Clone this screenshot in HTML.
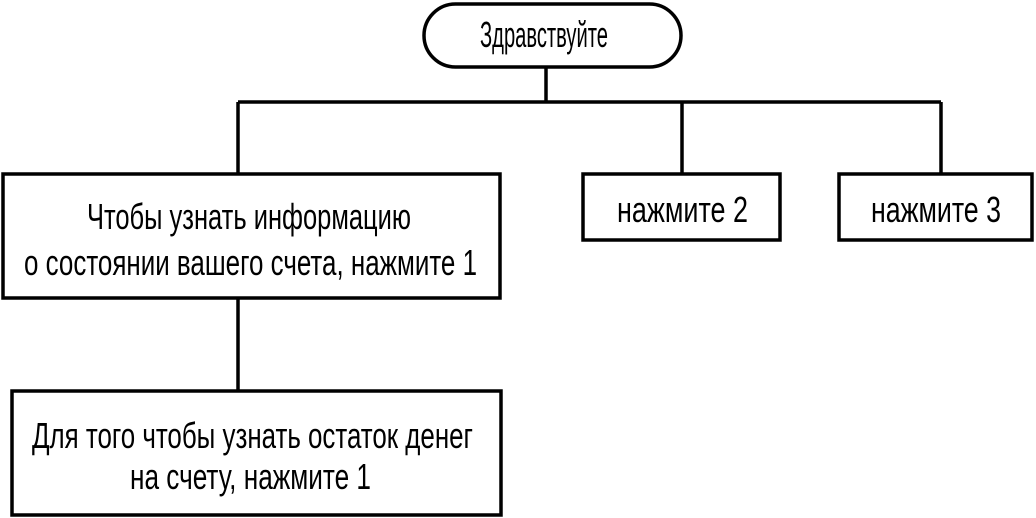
<!DOCTYPE html>
<html><head><meta charset="utf-8"><style>html,body{margin:0;padding:0;background:#fff}svg{display:block}
svg text{font-family:"Liberation Sans Narrow","Liberation Sans",sans-serif;font-size:36px;fill:#000}</style></head>
<body>
<svg width="1036" height="518" viewBox="0 0 1036 518" xmlns="http://www.w3.org/2000/svg">
<g fill="none" stroke="#000" stroke-width="3.5">
<rect x="424" y="4" width="257" height="63" rx="31.5"/>
<line x1="546" y1="67" x2="546" y2="102"/>
<line x1="238" y1="102" x2="941" y2="102"/>
<line x1="238" y1="102" x2="238" y2="174"/>
<line x1="682" y1="102" x2="682" y2="174"/>
<line x1="941" y1="102" x2="941" y2="174"/>
<rect x="3" y="174" width="497" height="124"/>
<rect x="583" y="174" width="197" height="66"/>
<rect x="839" y="174" width="193" height="66"/>
<line x1="238" y1="298" x2="238" y2="391"/>
<rect x="12" y="391" width="489" height="124"/>
</g>
<text x="480" y="47" style="font-size:36px" textLength="128" lengthAdjust="spacingAndGlyphs">Здравствуйте</text>
<text x="87" y="229" style="font-size:36px" textLength="324" lengthAdjust="spacingAndGlyphs">Чтобы узнать информацию</text>
<text x="24" y="275" style="font-size:36px" textLength="453" lengthAdjust="spacingAndGlyphs">о состоянии вашего счета, нажмите 1</text>
<text x="617" y="222" style="font-size:36px" textLength="131" lengthAdjust="spacingAndGlyphs">нажмите 2</text>
<text x="871" y="222" style="font-size:36px" textLength="130" lengthAdjust="spacingAndGlyphs">нажмите 3</text>
<text x="32" y="448" style="font-size:36px" textLength="441" lengthAdjust="spacingAndGlyphs">Для того чтобы узнать остаток денег</text>
<text x="130" y="489" style="font-size:36px" textLength="241" lengthAdjust="spacingAndGlyphs">на счету, нажмите 1</text>
</svg>
</body></html>
